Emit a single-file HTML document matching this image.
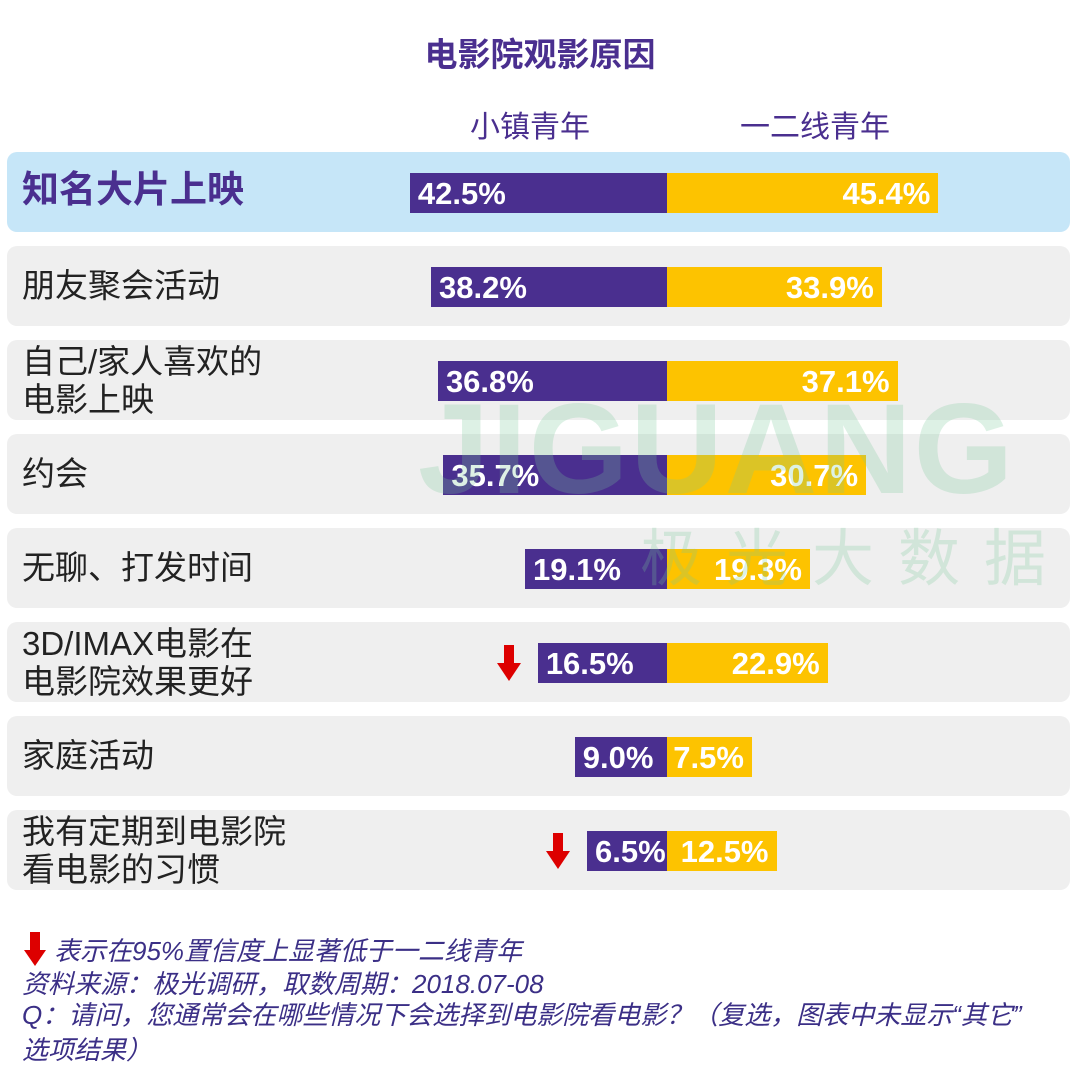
<!DOCTYPE html>
<html><head><meta charset="utf-8">
<style>
body{margin:0;width:1080px;height:1092px;background:#fff;position:relative;overflow:hidden;font-family:"Liberation Sans","Noto Sans CJK SC",sans-serif;}
.abs{position:absolute;}
.row{position:absolute;left:7px;width:1063px;height:80px;border-radius:10px;background:#efefef;}
.lbl{position:absolute;left:22px;font-size:33px;color:#222;line-height:38px;white-space:nowrap;}
.bar{position:absolute;height:40px;color:#fff;font-weight:bold;font-size:31px;line-height:42px;white-space:nowrap;}
.foot{position:absolute;left:22px;font-size:26px;font-style:italic;color:#3b2f86;white-space:nowrap;}
</style></head><body>
<div class="abs" style="left:0;width:1080px;top:28px;text-align:center;font-size:33px;font-weight:bold;color:#4a2f8f;">电影院观影原因</div>
<div class="abs" style="left:430px;width:200px;top:102px;text-align:center;font-size:30px;color:#4a2f8f;">小镇青年</div>
<div class="abs" style="left:715px;width:200px;top:102px;text-align:center;font-size:30px;color:#4a2f8f;">一二线青年</div>
<div id="chart"></div>
<div class="abs" style="left:418px;top:375px;font-size:128px;line-height:150px;font-weight:bold;color:rgba(120,200,150,0.25);letter-spacing:2px;white-space:nowrap;">JIGUANG</div>
<div class="abs" style="left:640px;top:525px;font-size:62px;line-height:70px;color:rgba(120,200,150,0.25);letter-spacing:24px;white-space:nowrap;">极光大数据</div>
<svg class="abs" style="left:24px;top:932px" width="22" height="34"><rect x="6" y="0" width="10" height="20" fill="#d00"/><polygon points="0,18 22,18 11,34" fill="#d00"/></svg>
<div class="foot" style="left:54px;top:931px;">表示在95%置信度上显著低于一二线青年</div>
<div class="foot" style="top:964px;">资料来源：极光调研，取数周期：2018.07-08</div>
<div class="foot" style="top:998px;line-height:35px;white-space:normal;width:1040px;">Q：请问，您通常会在哪些情况下会选择到电影院看电影？（复选，图表中未显示“其它”<br>选项结果）</div>
<script>
const categories=["知名大片上映","朋友聚会活动","自己/家人喜欢的<br>电影上映","约会","无聊、打发时间","3D/IMAX电影在<br>电影院效果更好","家庭活动","我有定期到电影院<br>看电影的习惯"];
const smallTown=[42.5,38.2,36.8,35.7,19.1,16.5,9.0,6.5];
const tier1=[45.4,33.9,37.1,30.7,19.3,22.9,7.5,12.5];
const significant=[false,false,false,false,false,true,false,true];
const chart=document.getElementById('chart');
const cx=667;
function w(v){return 48+4.92*v;}
categories.forEach((c,i)=>{
  const top=152+i*94;
  const row=document.createElement('div');
  row.className='row';row.style.top=top+'px';
  if(i===0)row.style.background='#c6e6f8';
  
  
  chart.appendChild(row);
  const l=document.createElement('div');
  l.className='lbl';l.innerHTML=c;
  const two=c.indexOf('<br>')>=0;
  l.style.top=(top+(two?3:21))+'px';
  if(i===0){l.style.fontWeight='bold';l.style.color='#4a2f8f';l.style.fontSize='37px';l.style.top=(top+19)+'px';}
  
  
  chart.appendChild(l);
  const bp=document.createElement('div');
  bp.className='bar';const pw=w(smallTown[i]);
  bp.style.left=(cx-pw)+'px';bp.style.width=(pw-8)+'px';bp.style.paddingLeft='8px';
  bp.style.top=(top+21)+'px';bp.style.background='#4a2f8f';
  bp.textContent=smallTown[i].toFixed(1)+'%';
  
  
  chart.appendChild(bp);
  const bg=document.createElement('div');
  bg.className='bar';const gw=w(tier1[i]);
  bg.style.left=cx+'px';bg.style.width=(gw-8)+'px';bg.style.paddingRight='8px';bg.style.textAlign='right';
  bg.style.top=(top+21)+'px';bg.style.background='#fdc300';
  bg.textContent=tier1[i].toFixed(1)+'%';
  
  
  chart.appendChild(bg);
  if(significant[i]){
    const a=document.createElementNS('http://www.w3.org/2000/svg','svg');
    a.setAttribute('width','24');a.setAttribute('height','36');
    a.style.position='absolute';a.style.left=(cx-pw-41)+'px';a.style.top=(top+23)+'px';
    a.innerHTML='<rect x="7" y="0" width="10" height="20" fill="#d00"/><polygon points="0,18 24,18 12,36" fill="#d00"/>';
    
    
    chart.appendChild(a);
  }
});
</script>
</body></html>
